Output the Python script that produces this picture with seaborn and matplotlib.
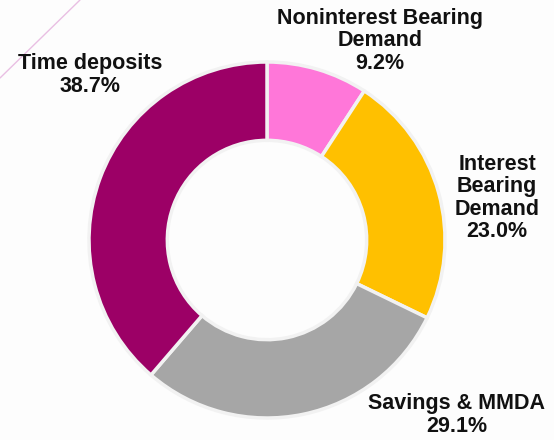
import matplotlib
matplotlib.use("Agg")
import matplotlib.pyplot as plt
from matplotlib.lines import Line2D
import seaborn as sns

# Data
categories = ["Noninterest Bearing\nDemand", "Interest\nBearing\nDemand", "Savings & MMDA", "Time deposits"]
shares = [9.2, 23.0, 29.1, 38.7]
colors = ["#FF77D9", "#FFC000", "#A6A6A6", "#9C0066"]

sns.set_theme(style="white")
plt.rcParams["font.family"] = ["Liberation Sans", "DejaVu Sans"]

W, H = 554, 440
dpi = 100
fig = plt.figure(figsize=(W / dpi, H / dpi), dpi=dpi)
fig.patch.set_facecolor("#FDFDFD")

cx, cy, r = 267, 240, 178
ax = fig.add_axes([(cx - r) / W, (H - cy - r) / H, 2 * r / W, 2 * r / H])
ax.set_facecolor("none")
ax.pie(shares, colors=colors, startangle=90, counterclock=False, radius=1,
       wedgeprops=dict(width=0.44, edgecolor="#F2F2F2", linewidth=2.5))
ax.set_xlim(-1.0, 1.0)
ax.set_ylim(-1.0, 1.0)
ax.set_aspect("equal")
ax.axis("off")

# decorative line
fig.add_artist(Line2D([0, 80 / W], [1 - 78 / H, 1], color="#E9BFE3", lw=1.0))

label_pos = [(380, 41), (497, 198), (457, 415), (90, 75)]
for cat, val, (px, py) in zip(categories, shares, label_pos):
    fig.text(px / W, 1 - py / H, f"{cat}\n{val:.1f}%", ha="center", va="center",
             multialignment="center", fontsize=15.5, fontweight="bold",
             color="#111111", linespacing=1.1)

fig.savefig("out.png", dpi=dpi, facecolor=fig.get_facecolor())
